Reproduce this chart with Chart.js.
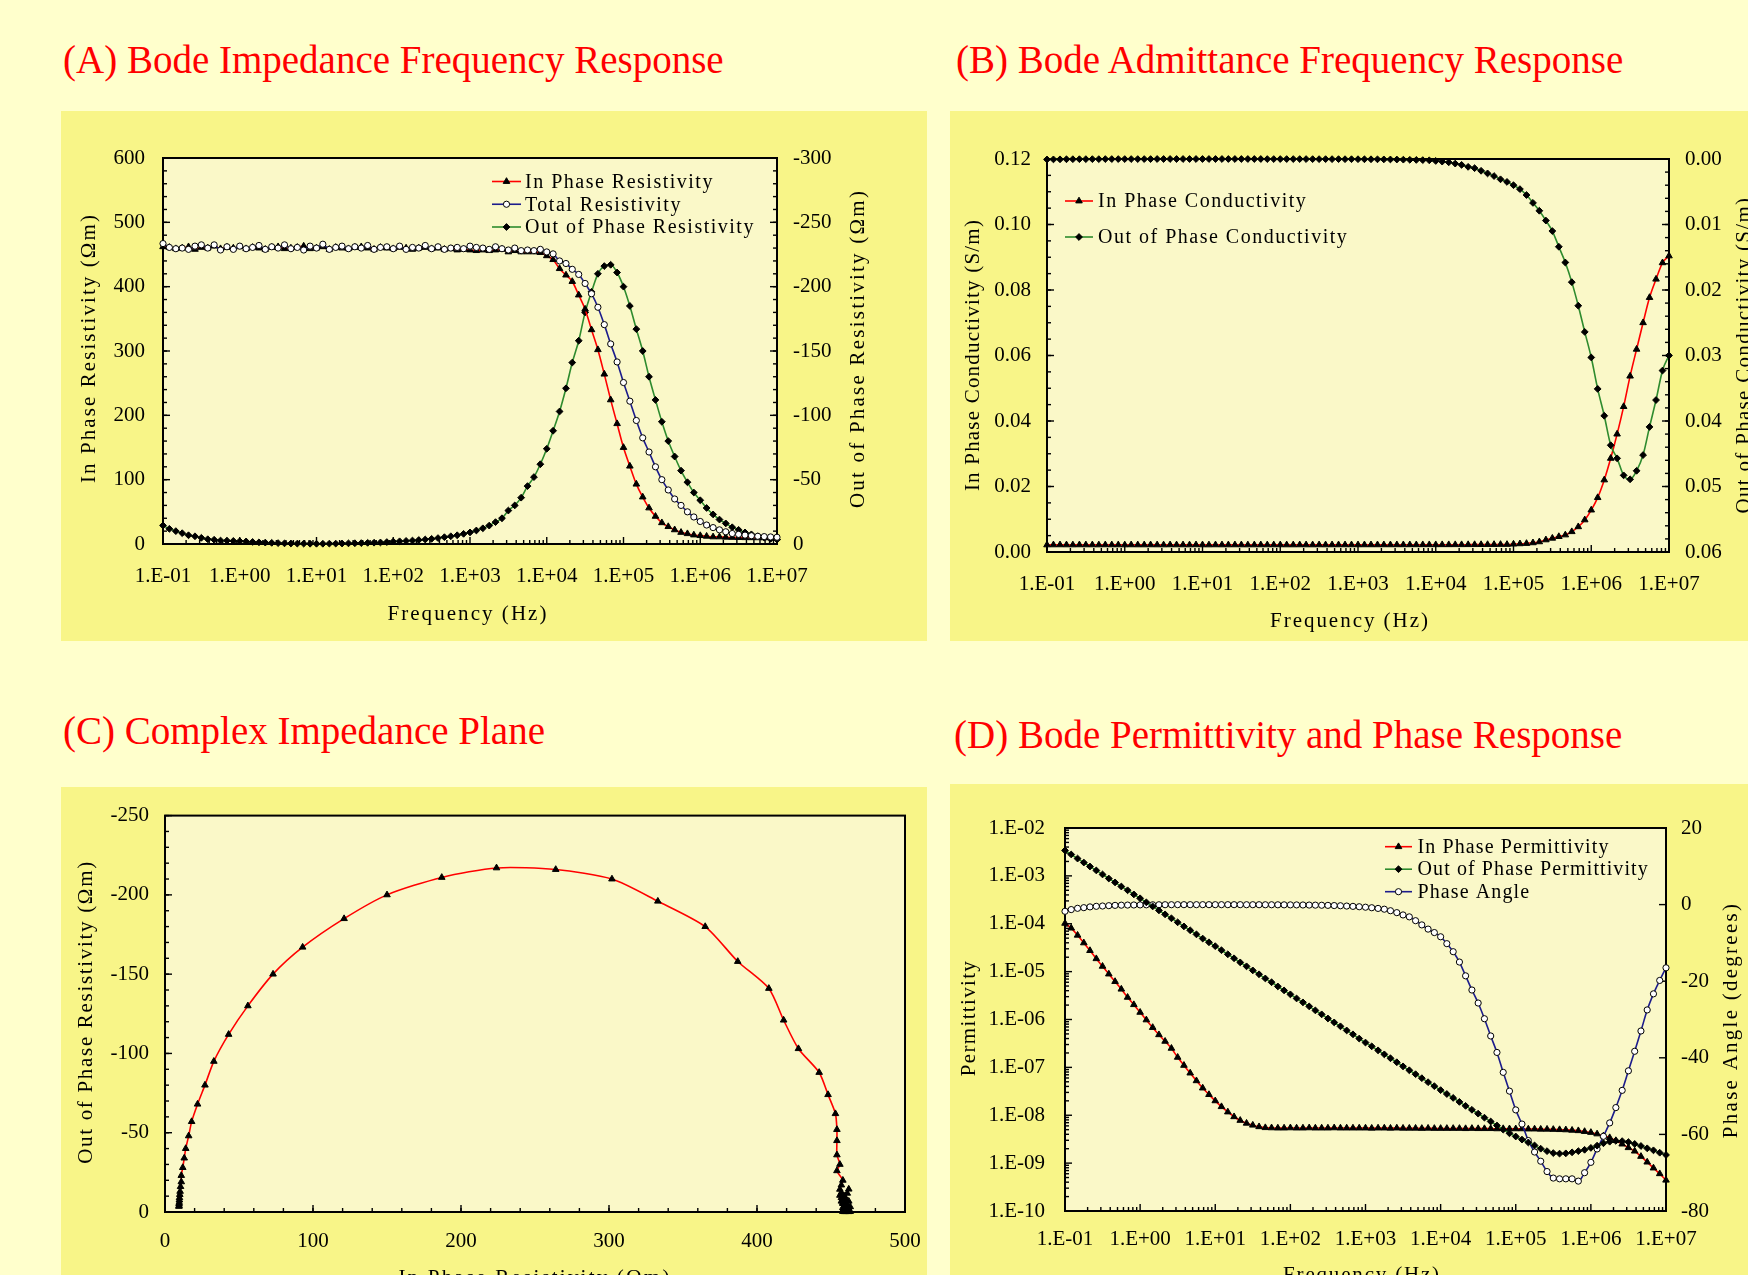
<!DOCTYPE html>
<html>
<head>
<meta charset="utf-8">
<script src="https://cdn.jsdelivr.net/npm/chart.js@4.4.1/dist/chart.umd.min.js"></script>
<style>
  html, body { margin: 0; padding: 0; }
  body { width: 1748px; height: 1275px; background: #FFFFCC; position: relative; overflow: hidden; font-family: "Liberation Serif", "Times New Roman", serif; }
  .ttl { position: absolute; color: #FF0000; font-size: 39px; line-height: 39px; white-space: nowrap; }
  .panel { position: absolute; background: #F8F588; }
  canvas { display: block; }
</style>
</head>
<body>
<div class="ttl" style="left:63px;top:40px">(A) Bode Impedance Frequency Response</div>
<div class="ttl" style="left:956px;top:40px">(B) Bode Admittance Frequency Response</div>
<div class="ttl" style="left:63px;top:711px">(C) Complex Impedance Plane</div>
<div class="ttl" style="left:954px;top:715px">(D) Bode Permittivity and Phase Response</div>

<div class="panel" style="left:61px;top:111px;width:866px;height:530px"><canvas id="cA" width="866" height="530"></canvas></div>
<div class="panel" style="left:950px;top:111px;width:798px;height:530px"><canvas id="cB" width="798" height="530"></canvas></div>
<div class="panel" style="left:61px;top:787px;width:866px;height:488px"><canvas id="cC" width="877" height="488"></canvas></div>
<div class="panel" style="left:950px;top:784px;width:798px;height:491px"><canvas id="cD" width="798" height="491"></canvas></div>

<script>
// frequency sweep, 12 points per decade (Hz)
const freq = [
  0.1, 0.121, 0.147, 0.178, 0.215, 0.261, 0.316, 0.383, 0.464, 0.562, 0.681, 0.825,
  1, 1.21, 1.47, 1.78, 2.15, 2.61, 3.16, 3.83, 4.64, 5.62, 6.81, 8.25,
  10, 12.1, 14.7, 17.8, 21.5, 26.1, 31.6, 38.3, 46.4, 56.2, 68.1, 82.5,
  100, 121, 147, 178, 215, 261, 316, 383, 464, 562, 681, 825,
  1e3, 1.21e3, 1.47e3, 1.78e3, 2.15e3, 2.61e3, 3.16e3, 3.83e3, 4.64e3, 5.62e3, 6.81e3, 8.25e3,
  1e4, 1.21e4, 1.47e4, 1.78e4, 2.15e4, 2.61e4, 3.16e4, 3.83e4, 4.64e4, 5.62e4, 6.81e4, 8.25e4,
  1e5, 1.21e5, 1.47e5, 1.78e5, 2.15e5, 2.61e5, 3.16e5, 3.83e5, 4.64e5, 5.62e5, 6.81e5, 8.25e5,
  1e6, 1.21e6, 1.47e6, 1.78e6, 2.15e6, 2.61e6, 3.16e6, 3.83e6, 4.64e6, 5.62e6, 6.81e6, 8.25e6,
  1e7
];

// (A) resistivity, ohm m
const rhoIn = [
  462, 461, 459, 460, 462, 458, 461, 460, 463, 459, 461, 460,
  462, 459, 461, 460, 458, 461, 462, 459, 460, 461, 463, 459,
  460, 462, 458, 461, 460, 459, 461, 462, 460, 458, 461, 460,
  459, 461, 460, 458, 460, 461, 459, 460, 458, 459, 457, 458,
  457, 456, 457, 456, 457, 458, 454, 456, 454, 454, 454, 453,
  448, 442, 428, 418, 408, 387, 365, 333, 302, 264, 224, 187,
  150, 121, 93, 73, 56, 43, 33, 27, 22, 18, 16, 14,
  13, 12, 11, 11, 10.5, 10.2, 10, 9.8, 9.7, 9.6, 9.5, 9.5,
  9.4
];
const rhoTot = [
  467, 461, 459, 460, 458, 463, 465, 460, 465, 457, 462, 458,
  463, 459, 461, 464, 458, 462, 460, 465, 459, 461, 457, 463,
  460, 466, 458, 461, 463, 459, 462, 460, 464, 458, 461, 462,
  459, 463, 458, 461, 460, 464, 459, 462, 458, 460, 461, 459,
  463, 461, 460, 458, 462, 459, 457, 460, 456, 457, 456, 458,
  454, 451, 440, 436, 427, 419, 405, 389, 368, 341, 311, 283,
  251, 222, 192, 165, 143, 120, 100, 84, 70, 60, 50, 42,
  35, 29.5, 25.5, 22, 19, 16.3, 15, 13.8, 12.8, 12, 11.5, 11,
  10.5
];
const rhoOut = [
  -14.4, -11.8, -10.0, -8.4, -6.8, -6.0, -4.8, -3.7, -3.3, -2.7, -2.6, -2.4,
  -2.2, -2.0, -1.6, -1.3, -1.1, -0.9, -0.7, -0.5, -0.4, -0.3, -0.3, -0.2,
  -0.2, -0.2, -0.3, -0.3, -0.4, -0.5, -0.6, -0.7, -0.9, -1.0, -1.2, -1.5,
  -1.9, -2.1, -2.4, -2.7, -3.1, -3.5, -4.0, -4.6, -5.3, -6.0, -6.8, -7.9,
  -9.0, -10.5, -12.2, -14.3, -17.0, -20.0, -26.0, -30.0, -36.0, -45.0, -52.0, -62.0,
  -74, -88, -103, -121, -141, -158, -180, -196, -210, -216, -217, -211,
  -200, -185, -167, -150, -130, -112, -95, -80, -68, -57, -48, -40,
  -34, -28, -23, -19, -16, -13, -11, -9, -7.5, -6, -5, -4,
  -3.5
];

// (B) conductivity, S/m
const sigIn = [
  0.00216, 0.00217, 0.00218, 0.00217, 0.00216, 0.00218, 0.00217, 0.00217, 0.00216, 0.00218, 0.00217, 0.00217,
  0.00216, 0.00218, 0.00217, 0.00217, 0.00218, 0.00217, 0.00216, 0.00218, 0.00217, 0.00217, 0.00216, 0.00218,
  0.00217, 0.00216, 0.00218, 0.00217, 0.00217, 0.00218, 0.00217, 0.00216, 0.00217, 0.00218, 0.00217, 0.00217,
  0.00218, 0.00217, 0.00217, 0.00218, 0.00217, 0.00217, 0.00218, 0.00217, 0.00218, 0.00218, 0.00218, 0.00218,
  0.00218, 0.00219, 0.00219, 0.00219, 0.00219, 0.00219, 0.0022, 0.0022, 0.0022, 0.0022, 0.00221, 0.00221,
  0.00221, 0.00222, 0.00222, 0.00223, 0.00223, 0.00224, 0.00225, 0.00226, 0.00227, 0.00228, 0.0023, 0.0023,
  0.0024, 0.0025, 0.0026, 0.0028, 0.0031, 0.0037, 0.0042, 0.0047, 0.0052, 0.0062, 0.0077, 0.0098,
  0.0128, 0.0166, 0.022, 0.0286, 0.036, 0.0444, 0.0537, 0.0619, 0.070, 0.0777, 0.0833, 0.0883,
  0.0904
];
const sigOut = [
  0.00007, 0.00006, 0.00005, 0.00004, 0.00003, 0.00003, 0.00002, 0.00002, 0.00002, 0.00001, 0.00001, 0.00001,
  0.00001, 0.00001, 0.00001, 0.00001, 0.00001, 0, 0, 0, 0, 0, 0, 0,
  0, 0, 0, 0, 0, 0, 0, 0, 0, 0, 0.00001, 0.00001,
  0.00001, 0.00001, 0.00001, 0.00001, 0.00001, 0.00002, 0.00002, 0.00002, 0.00002, 0.00002, 0.00003, 0.00003,
  0.00003, 0.00004, 0.00004, 0.00005, 0.00006, 0.00007, 0.00008, 0.0001, 0.00012, 0.00014, 0.00017, 0.0002,
  0.0003, 0.0004, 0.0005, 0.0007, 0.0009, 0.0012, 0.0014, 0.0018, 0.0022, 0.0026, 0.0031, 0.0035,
  0.004, 0.0046, 0.0055, 0.0067, 0.0079, 0.0094, 0.011, 0.0134, 0.0158, 0.0188, 0.0224, 0.0264,
  0.0303, 0.0351, 0.0392, 0.0437, 0.0457, 0.0483, 0.0489, 0.0476, 0.0452, 0.0409, 0.0368, 0.0323,
  0.030
];

// (D) permittivity (F/m) and phase angle (degrees)
const epsIn = [
  1.02e-4, 8.1e-5, 5.75e-5, 3.98e-5, 2.75e-5, 1.86e-5, 1.29e-5, 8.9e-6, 6.2e-6, 4.3e-6, 2.9e-6, 2.04e-6,
  1.41e-6, 9.8e-7, 6.8e-7, 4.8e-7, 3.5e-7, 2.5e-7, 1.62e-7, 1.1e-7, 7.6e-8, 5.25e-8, 3.7e-8, 2.7e-8,
  2.0e-8, 1.51e-8, 1.17e-8, 9.3e-9, 7.8e-9, 6.8e-9, 6.2e-9, 5.75e-9, 5.5e-9, 5.45e-9, 5.4e-9, 5.4e-9,
  5.45e-9, 5.4e-9, 5.4e-9, 5.45e-9, 5.4e-9, 5.4e-9, 5.4e-9, 5.45e-9, 5.4e-9, 5.4e-9, 5.4e-9, 5.4e-9,
  5.4e-9, 5.35e-9, 5.4e-9, 5.4e-9, 5.35e-9, 5.4e-9, 5.35e-9, 5.35e-9, 5.35e-9, 5.3e-9, 5.35e-9, 5.3e-9,
  5.3e-9, 5.3e-9, 5.3e-9, 5.3e-9, 5.25e-9, 5.3e-9, 5.25e-9, 5.25e-9, 5.25e-9, 5.2e-9, 5.25e-9, 5.2e-9,
  5.2e-9, 5.2e-9, 5.15e-9, 5.15e-9, 5.1e-9, 5.1e-9, 5.05e-9, 5.0e-9, 4.95e-9, 4.85e-9, 4.75e-9, 4.57e-9,
  4.37e-9, 4.07e-9, 3.7e-9, 3.4e-9, 2.95e-9, 2.5e-9, 2.1e-9, 1.78e-9, 1.38e-9, 1.05e-9, 7.9e-10, 6.0e-10,
  4.4e-10
];
const epsOut = [
  3.4e-3, 2.8e-3, 2.3e-3, 1.9e-3, 1.57e-3, 1.3e-3, 1.07e-3, 8.8e-4, 7.3e-4, 6.0e-4, 5.0e-4, 4.1e-4,
  3.4e-4, 2.8e-4, 2.3e-4, 1.9e-4, 1.57e-4, 1.3e-4, 1.07e-4, 8.8e-5, 7.3e-5, 6.0e-5, 4.9e-5, 4.1e-5,
  3.4e-5, 2.8e-5, 2.3e-5, 1.9e-5, 1.56e-5, 1.29e-5, 1.06e-5, 8.8e-6, 7.2e-6, 6.0e-6, 4.9e-6, 4.05e-6,
  3.35e-6, 2.75e-6, 2.28e-6, 1.88e-6, 1.55e-6, 1.28e-6, 1.05e-6, 8.7e-7, 7.2e-7, 5.9e-7, 4.9e-7, 4.0e-7,
  3.3e-7, 2.75e-7, 2.27e-7, 1.87e-7, 1.55e-7, 1.28e-7, 1.05e-7, 8.7e-8, 7.2e-8, 5.95e-8, 4.9e-8, 4.05e-8,
  3.35e-8, 2.78e-8, 2.3e-8, 1.9e-8, 1.57e-8, 1.3e-8, 1.08e-8, 8.9e-9, 7.4e-9, 6.1e-9, 5.0e-9, 4.2e-9,
  3.6e-9, 3.1e-9, 2.7e-9, 2.34e-9, 2.0e-9, 1.78e-9, 1.62e-9, 1.58e-9, 1.6e-9, 1.68e-9, 1.78e-9, 1.9e-9,
  2.08e-9, 2.32e-9, 2.6e-9, 2.8e-9, 2.92e-9, 2.88e-9, 2.75e-9, 2.52e-9, 2.28e-9, 2.04e-9, 1.85e-9, 1.65e-9,
  1.48e-9
];
const phase = [
  -1.75, -1.3, -0.97, -0.8, -0.6, -0.45, -0.37, -0.28, -0.2, -0.15, -0.12, -0.1,
  -0.08, -0.06, -0.05, -0.04, -0.03, -0.03, -0.02, -0.02, -0.02, -0.02, -0.02, -0.02,
  -0.02, -0.02, -0.02, -0.02, -0.02, -0.03, -0.03, -0.03, -0.04, -0.04, -0.05, -0.06,
  -0.07, -0.08, -0.1, -0.12, -0.14, -0.17, -0.2, -0.25, -0.3, -0.38, -0.46, -0.56,
  -0.68, -0.82, -1.0, -1.2, -1.6, -2.1, -2.7, -3.2, -4.2, -5.3, -6.4, -7.3,
  -8.4, -10.2, -12.3, -15.0, -18.6, -22.3, -25.7, -29.8, -34.3, -38.6, -43.8, -48.7,
  -53.6, -57.3, -61.6, -64.6, -67.0, -69.7, -71.4, -71.6, -71.6, -71.6, -72.2, -70.0,
  -67.3, -63.8, -60.5, -57.0, -53.0, -48.5, -43.4, -38.3, -33.0, -27.5, -23.3, -19.8,
  -16.5
];

// tick labels
const freqTicks = [0.1, 1, 10, 100, 1e3, 1e4, 1e5, 1e6, 1e7];
const epsTicks = [1e-10, 1e-9, 1e-8, 1e-7, 1e-6, 1e-5, 1e-4, 1e-3, 1e-2];

const FONT = '"Liberation Serif", "Times New Roman", serif';
const TICK_FONT = {family: FONT, size: 21};

const STYLE = {
  tri:  {color: '#FF0000', pointStyle: 'triangle', r: 3.8, fill: '#000000', stroke: '#000000'},
  dia:  {color: '#2E8B2E', pointStyle: 'rectRot', r: 3.4, fill: '#000000', stroke: '#000000'},
  circ: {color: '#1C1C8C', pointStyle: 'circle', r: 3.1, fill: '#FFFFFF', stroke: '#000000'}
};

function xy(xs, ys) {
  return xs.map((x, i) => ({x: x, y: ys[i]}));
}

function sciLabel(v) {
  const e = Math.round(Math.log10(v));
  return '1.E' + (e < 0 ? '-' : '+') + String(Math.abs(e)).padStart(2, '0');
}

function decadeMinors(ticks) {
  const out = [];
  for (let i = 0; i < ticks.length - 1; i++) {
    for (let j = 2; j < 10; j++) out.push(ticks[i] * j);
  }
  return out;
}

function steps(min, max, step) {
  const out = [];
  for (let v = min; v <= max + step / 1000; v += step) out.push(+v.toFixed(6));
  return out;
}

function series(label, data, axis, kind, order, smooth) {
  const s = STYLE[kind];
  return {
    label: label, data: data, yAxisID: axis, order: order,
    borderColor: s.color, backgroundColor: s.color, borderWidth: 1.6,
    pointStyle: s.pointStyle, pointRadius: s.r,
    pointBackgroundColor: s.fill, pointBorderColor: s.stroke, pointBorderWidth: 1,
    cubicInterpolationMode: smooth ? 'monotone' : 'default',
    tension: smooth ? 0 : 0.25, fill: false, clip: false
  };
}

function fitTo(pos, size) {
  return (s) => {
    if (pos === 'bottom') s.height = size; else s.width = size;
  };
}

function logAxis(pos, min, max, ticks, size, pad) {
  return {
    type: 'logarithmic', position: pos, min: min, max: max,
    grid: {display: false, drawTicks: false}, border: {display: false},
    afterBuildTicks: (s) => { s.ticks = ticks.map(v => ({value: v})); },
    ticks: {padding: pad, color: '#000', font: TICK_FONT, autoSkip: false, maxRotation: 0, minRotation: 0,
            callback: (v) => sciLabel(v)},
    afterFit: fitTo(pos, size)
  };
}

function linAxis(pos, min, max, step, size, pad, reverse, decimals) {
  const t = {stepSize: step, padding: pad, color: '#000', font: TICK_FONT, autoSkip: false, maxRotation: 0, minRotation: 0};
  if (decimals) t.callback = (v) => Number(v).toFixed(decimals);
  return {
    type: 'linear', position: pos, min: min, max: max, reverse: !!reverse,
    grid: {display: false, drawTicks: false}, border: {display: false},
    ticks: t,
    afterFit: fitTo(pos, size)
  };
}

function drawMarker(ctx, style, x, y, r, fill, stroke) {
  ctx.beginPath();
  if (style === 'triangle') {
    ctx.moveTo(x, y - r);
    ctx.lineTo(x + r * 0.866, y + r * 0.5);
    ctx.lineTo(x - r * 0.866, y + r * 0.5);
  } else if (style === 'rectRot') {
    ctx.moveTo(x - r, y);
    ctx.lineTo(x, y - r);
    ctx.lineTo(x + r, y);
    ctx.lineTo(x, y + r);
  } else {
    ctx.arc(x, y, r, 0, Math.PI * 2);
  }
  ctx.closePath();
  ctx.fillStyle = fill;
  ctx.fill();
  ctx.lineWidth = 1;
  ctx.strokeStyle = stroke;
  ctx.stroke();
}

function spacedText(ctx, text, len, spacing) {
  let sp = spacing || 0;
  if (len) {
    ctx.letterSpacing = '0px';
    sp = (len - ctx.measureText(text).width) / (text.length - 1);
  }
  ctx.letterSpacing = sp + 'px';
}

// plot background, inward ticks, frame, axis titles and in-plot legend
const decor = {
  id: 'decor',
  beforeDraw(chart, args, o) {
    const a = chart.chartArea, ctx = chart.ctx;
    ctx.save();
    ctx.fillStyle = '#FAF8C8';
    ctx.fillRect(a.left, a.top, a.right - a.left, a.bottom - a.top);
    ctx.restore();
  },
  beforeDatasetsDraw(chart, args, o) {
    const a = chart.chartArea, ctx = chart.ctx;
    ctx.save();
    ctx.strokeStyle = '#000';
    ctx.lineWidth = 1.4;
    (o.marks || []).forEach(m => {
      const s = chart.scales[m.scale];
      const tick = (v, len) => {
        const p = s.getPixelForValue(v);
        ctx.beginPath();
        if (m.side === 'bottom') { ctx.moveTo(p, a.bottom); ctx.lineTo(p, a.bottom - len); }
        else if (m.side === 'left') { ctx.moveTo(a.left, p); ctx.lineTo(a.left + len, p); }
        else { ctx.moveTo(a.right, p); ctx.lineTo(a.right - len, p); }
        ctx.stroke();
      };
      (m.minor || []).forEach(v => tick(v, 4));
      (m.major || []).forEach(v => tick(v, 7));
    });
    ctx.lineWidth = 2;
    ctx.strokeRect(a.left, a.top, a.right - a.left, a.bottom - a.top);
    ctx.restore();
  },
  afterDraw(chart, args, o) {
    const ctx = chart.ctx;
    (o.titles || []).forEach(t => {
      ctx.save();
      ctx.font = '21px ' + FONT;
      ctx.fillStyle = '#000';
      ctx.textAlign = 'center';
      ctx.textBaseline = 'alphabetic';
      spacedText(ctx, t.text, t.len, t.spacing);
      ctx.translate(t.x, t.y);
      if (t.rot) ctx.rotate(-Math.PI / 2);
      ctx.fillText(t.text, 0, 0);
      ctx.restore();
    });
    const lg = o.legend;
    if (!lg) return;
    chart.data.datasets.forEach((ds, i) => {
      const y = lg.y + i * lg.dy;
      ctx.save();
      ctx.strokeStyle = ds.borderColor;
      ctx.lineWidth = ds.borderWidth;
      ctx.beginPath();
      ctx.moveTo(lg.x, y);
      ctx.lineTo(lg.x + lg.len, y);
      ctx.stroke();
      drawMarker(ctx, ds.pointStyle, lg.x + lg.len / 2, y, ds.pointRadius, ds.pointBackgroundColor, ds.pointBorderColor);
      ctx.font = lg.size + 'px ' + FONT;
      ctx.fillStyle = '#000';
      ctx.textAlign = 'left';
      ctx.textBaseline = 'middle';
      ctx.letterSpacing = lg.spacing + 'px';
      ctx.fillText(ds.label, lg.x + lg.len + lg.gap, y + 1);
      ctx.restore();
    });
  }
};

function baseOptions(padding, scales, deco) {
  return {
    responsive: false, maintainAspectRatio: false, animation: false, events: [],
    layout: {padding: padding},
    scales: scales,
    plugins: {legend: {display: false}, tooltip: {enabled: false}, decor: deco}
  };
}

// (A) Bode impedance
new Chart(document.getElementById('cA'), {
  type: 'line',
  data: {datasets: [
    series('In Phase Resistivity', xy(freq, rhoIn), 'y', 'tri', 1, true),
    series('Total Resistivity', xy(freq, rhoTot), 'y', 'circ', 0, true),
    series('Out of Phase Resistivity', xy(freq, rhoOut), 'y1', 'dia', 2, true)
  ]},
  options: baseOptions({top: 47, left: 0, right: 0, bottom: 0}, {
    x: logAxis('bottom', 0.1, 1e7, freqTicks, 97, 20),
    y: linAxis('left', 0, 600, 100, 102, 18),
    y1: linAxis('right', -300, 0, 50, 150, 16, true)
  }, {
    marks: [
      {scale: 'x', side: 'bottom', major: freqTicks, minor: decadeMinors(freqTicks)},
      {scale: 'y', side: 'left', major: steps(0, 600, 100), minor: steps(0, 600, 20)},
      {scale: 'y1', side: 'right', major: steps(-300, 0, 50), minor: steps(-300, 0, 10)}
    ],
    titles: [
      {text: 'In Phase Resistivity (\u03A9m)', x: 33.5, y: 237, rot: true, len: 268},
      {text: 'Out of Phase Resistivity (\u03A9m)', x: 803, y: 237.5, rot: true, len: 317},
      {text: 'Frequency (Hz)', x: 407, y: 509, len: 159}
    ],
    legend: {x: 431, y: 70.5, dy: 22.75, len: 29, gap: 4, size: 20, spacing: 1.5}
  }),
  plugins: [decor]
});

// (B) Bode admittance
new Chart(document.getElementById('cB'), {
  type: 'line',
  data: {datasets: [
    series('In Phase Conductivity', xy(freq, sigIn), 'y', 'tri', 1, true),
    series('Out of Phase Conductivity', xy(freq, sigOut), 'y1', 'dia', 0, true)
  ]},
  options: baseOptions({top: 48, left: 0, right: 0, bottom: 0}, {
    x: logAxis('bottom', 0.1, 1e7, freqTicks, 89, 20),
    y: linAxis('left', 0, 0.12, 0.02, 97, 16, false, 2),
    y1: linAxis('right', 0, 0.06, 0.01, 79, 16, true, 2)
  }, {
    marks: [
      {scale: 'x', side: 'bottom', major: freqTicks, minor: decadeMinors(freqTicks)},
      {scale: 'y', side: 'left', major: steps(0, 0.12, 0.02), minor: steps(0, 0.12, 0.005)},
      {scale: 'y1', side: 'right', major: steps(0, 0.06, 0.01), minor: steps(0, 0.06, 0.002)}
    ],
    titles: [
      {text: 'In Phase Conductivity (S/m)', x: 29.3, y: 244, rot: true, len: 271},
      {text: 'Out of Phase Conductivity (S/m)', x: 800, y: 244, rot: true, spacing: 1.3},
      {text: 'Frequency (Hz)', x: 400, y: 516, len: 158}
    ],
    legend: {x: 115, y: 90, dy: 36, len: 28, gap: 5, size: 20, spacing: 1.5}
  }),
  plugins: [decor]
});

// (C) complex impedance plane
new Chart(document.getElementById('cC'), {
  type: 'line',
  data: {datasets: [
    series('Complex Impedance', xy(rhoIn, rhoOut), 'y', 'tri', 0, false)
  ]},
  options: baseOptions({top: 26, left: 0, right: 33, bottom: 0}, {
    x: linAxis('bottom', 0, 500, 100, 63, 17),
    y: linAxis('left', -250, 0, 50, 104, 16, true)
  }, {
    marks: [
      {scale: 'x', side: 'bottom', major: steps(0, 500, 100), minor: steps(0, 500, 20)},
      {scale: 'y', side: 'left', major: steps(-250, 0, 50), minor: steps(-250, 0, 10)}
    ],
    titles: [
      {text: 'Out of Phase Resistivity (\u03A9m)', x: 31, y: 225, rot: true, len: 302},
      {text: 'In Phase Resistivity (\u03A9m)', x: 474, y: 497, len: 271}
    ]
  }),
  plugins: [decor]
});

// (D) Bode permittivity and phase
new Chart(document.getElementById('cD'), {
  type: 'line',
  data: {datasets: [
    series('In Phase Permittivity', xy(freq, epsIn), 'y', 'tri', 2, true),
    series('Out of Phase Permittivity', xy(freq, epsOut), 'y', 'dia', 0, true),
    series('Phase Angle', xy(freq, phase), 'y1', 'circ', 1, true)
  ]},
  options: baseOptions({top: 44, left: 0, right: 0, bottom: 0}, {
    x: logAxis('bottom', 0.1, 1e7, freqTicks, 64, 15.5),
    y: logAxis('left', 1e-10, 1e-2, epsTicks, 115, 20),
    y1: linAxis('right', -80, 20, 20, 82, 15)
  }, {
    marks: [
      {scale: 'x', side: 'bottom', major: freqTicks, minor: decadeMinors(freqTicks)},
      {scale: 'y', side: 'left', major: epsTicks, minor: decadeMinors(epsTicks)},
      {scale: 'y1', side: 'right', major: steps(-80, 20, 20)}
    ],
    titles: [
      {text: 'Permittivity', x: 25, y: 234, rot: true, len: 115},
      {text: 'Phase Angle (degrees)', x: 787, y: 236, rot: true, len: 234},
      {text: 'Frequency (Hz)', x: 412, y: 497, len: 156}
    ],
    legend: {x: 435, y: 62.7, dy: 22.5, len: 27, gap: 5.5, size: 20, spacing: 1.1}
  }),
  plugins: [decor]
});
</script>
</body>
</html>
